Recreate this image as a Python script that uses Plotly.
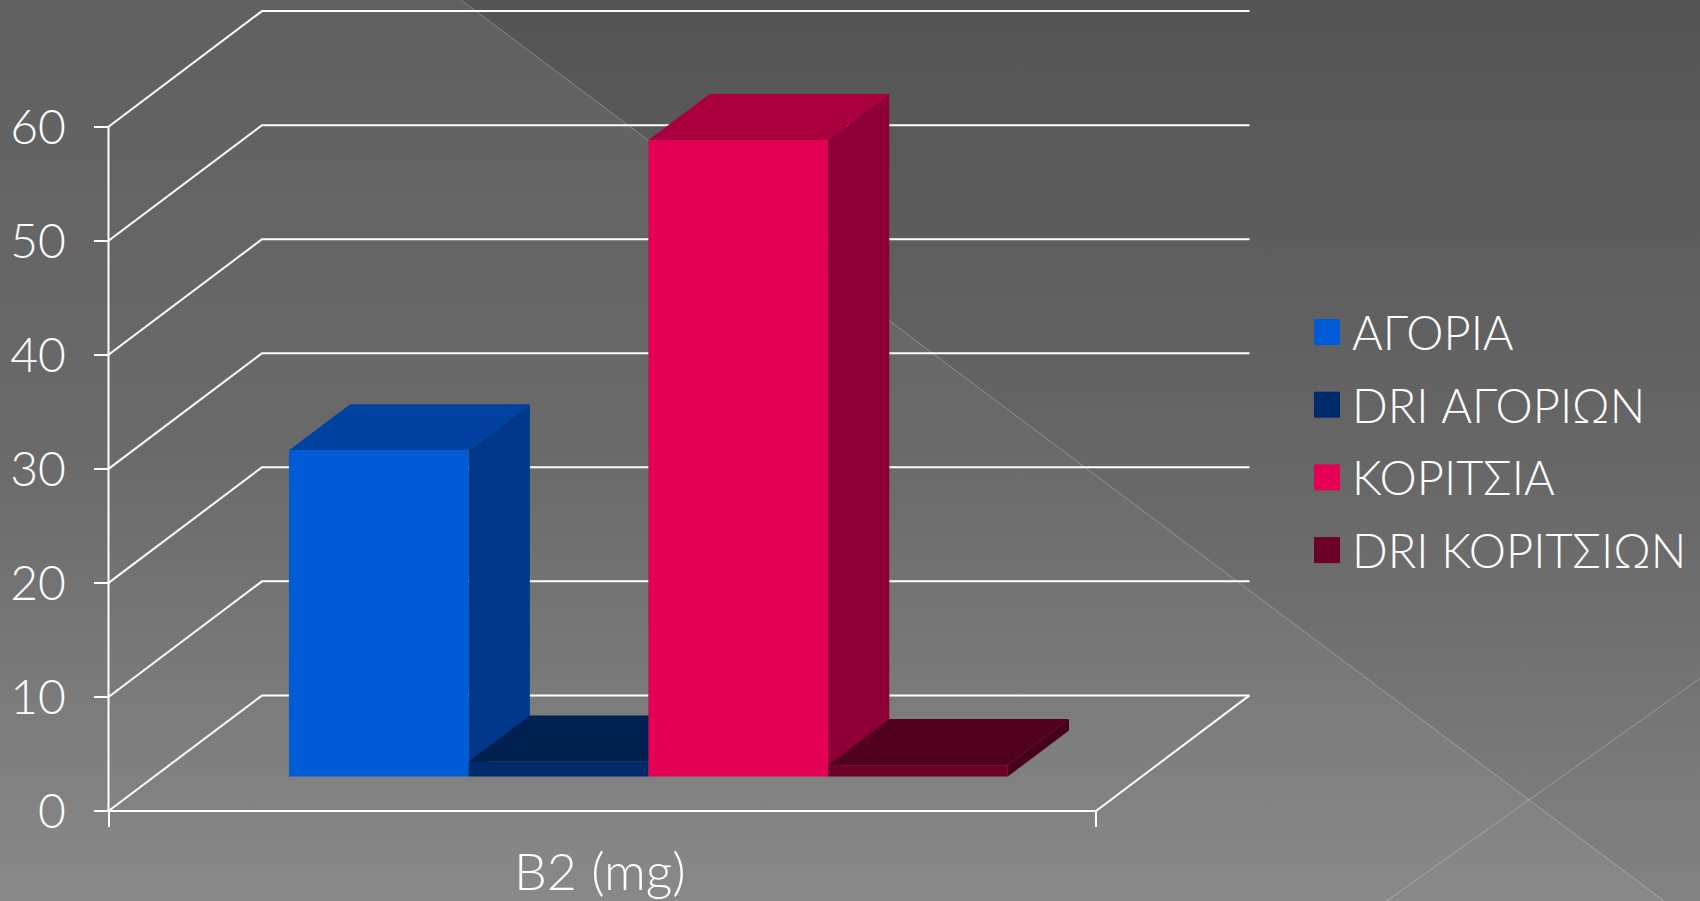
import plotly.graph_objects as go

# Riboflavin intake: one category, four series
CATEGORY = "B2 (mg)"
SERIES = ["ΑΓΟΡΙΑ", "DRI ΑΓΟΡΙΩΝ", "ΚΟΡΙΤΣΙΑ", "DRI ΚΟΡΙΤΣΙΩΝ"]
VALUES = [28.6, 1.3, 55.8, 1.0]
Y_TICKS = [0, 10, 20, 30, 40, 50, 60]

FRONT = ["#005BD6", "#002B6B", "#E30055", "#6B0029"]
TOP = ["#0042A1", "#002050", "#AA0040", "#52001F"]
SIDE = ["#00388A", "#001C46", "#900038", "#47001B"]

W, H = 1700, 901
FONT = "Lato"
TICK_SIZE = 48
LEGEND_SIZE = 47
CATEGORY_SIZE = 52

# Scales: pixels per unit on each axis
PX_PER_BAR = 179.7
PX_PER_VALUE = 11.405
ORIGIN_PX = (108.5, 811.0)

# Oblique projection of the chart box, in axis units
FLOOR_WIDTH = 987.5 / PX_PER_BAR
BOX_DX = 153.5 / PX_PER_BAR
BOX_DY = 115.6 / PX_PER_VALUE
BAR_NEAR = 0.298
BAR_DEPTH = 0.399
BAR_START = 0.7495


def project(x, value, depth=0.0):
    return x + depth * BOX_DX, value + depth * BOX_DY


def px(x_px, y_px):
    return (x_px - ORIGIN_PX[0]) / PX_PER_BAR, (ORIGIN_PX[1] - y_px) / PX_PER_VALUE


def polygon(points, color, zorder):
    xs, ys = zip(*points)
    return go.Scatter(x=list(xs) + [xs[0]], y=list(ys) + [ys[0]], mode="lines", fill="toself",
                      fillcolor=color, line=dict(width=0), hoverinfo="skip",
                      showlegend=False, zorder=zorder)


fig = go.Figure()

# Slide backdrop: vertical gradients, darker above the diagonal
x_left, y_bottom = px(0, H)
x_right, y_top = px(W, 0)
light_scale = [[0, "#606060"], [0.5, "#6a6a6a"], [0.667, "#747474"], [1, "#898989"]]
dark_scale = [[0, "#545454"], [0.22, "#5b5b5b"], [0.5, "#666666"], [0.667, "#6e6e6e"], [1, "#828282"]]


def backdrop(corners, scale, zorder):
    xs, ys = zip(*[px(*c) for c in corners])
    fig.add_trace(go.Scatter(
        x=list(xs) + [xs[0]], y=list(ys) + [ys[0]], mode="lines", line=dict(width=0),
        fill="toself", fillgradient=dict(type="vertical", colorscale=scale, start=y_top, stop=y_bottom),
        hoverinfo="skip", showlegend=False, zorder=zorder))


backdrop([(0, 0), (W, 0), (W, H), (0, H)], light_scale, -20)
backdrop([(461, 0), (W, 0), (W, H), (1664, H)], dark_scale, -19)

for a, b in [((461, 0), (1664, H)), ((W, 678.5), (1386.7, H))]:
    xa, ya = px(*a)
    xb, yb = px(*b)
    fig.add_trace(go.Scatter(x=[xa, xb], y=[ya, yb], mode="lines", hoverinfo="skip", showlegend=False,
                             line=dict(color="rgba(255,255,255,0.27)", width=1), zorder=-18))

# Gridlines run up the side wall and along the back wall
for tick in Y_TICKS:
    pts = [project(0, tick), project(0, tick, 1), project(FLOOR_WIDTH, tick, 1)]
    fig.add_trace(go.Scatter(x=[p[0] for p in pts], y=[p[1] for p in pts], mode="lines",
                             line=dict(color="white", width=2), hoverinfo="skip",
                             showlegend=False, zorder=-10))

# Value axis line and the two front floor edges
frame = [project(0, Y_TICKS[-1]), project(0, 0), project(FLOOR_WIDTH, 0), project(FLOOR_WIDTH, 0, 1)]
fig.add_trace(go.Scatter(x=[p[0] for p in frame], y=[p[1] for p in frame], mode="lines",
                         line=dict(color="white", width=2), hoverinfo="skip",
                         showlegend=False, zorder=-9))

# Boxes painted left to right: top and side faces, then the front bar
for i, (name, value) in enumerate(zip(SERIES, VALUES)):
    x0 = BAR_START + i
    x1 = x0 + 1
    d0, d1 = BAR_NEAR, BAR_NEAR + BAR_DEPTH
    base = project(x0, 0, d0)[1]
    top = [project(x0, value, d0), project(x0, value, d1), project(x1, value, d1), project(x1, value, d0)]
    side = [project(x1, 0, d0), project(x1, 0, d1), project(x1, value, d1), project(x1, value, d0)]
    fig.add_trace(polygon(top, TOP[i], 2 * i))
    fig.add_trace(polygon(side, SIDE[i], 2 * i))
    fig.add_trace(go.Bar(x=[project(x0 + 0.5, 0, d0)[0]], y=[value], base=[base], width=1, name=name,
                         marker=dict(color=FRONT[i], line=dict(width=0)), showlegend=False,
                         hovertemplate=name + ": %{y}<extra></extra>", zorder=2 * i + 1))

# Legend swatches and labels
shapes, annotations = [], []
for i, name in enumerate(SERIES):
    centre = 332.0 + i * 72.7
    shapes.append(dict(type="rect", xref="paper", yref="paper", layer="above", line=dict(width=0),
                       x0=1314 / W, x1=1340 / W, y0=1 - (centre - 13) / H, y1=1 - (centre + 13) / H,
                       fillcolor=FRONT[i]))
    annotations.append(dict(text=name, xref="paper", yref="paper", x=1349.5 / W, y=1 - centre / H,
                            xanchor="left", yanchor="middle", showarrow=False, align="left",
                            font=dict(family=FONT, size=LEGEND_SIZE, color="white", weight=300)))

cat_x, cat_y = px(600, 869.5)
annotations.append(dict(text=CATEGORY, x=cat_x, y=cat_y, xref="x", yref="y", showarrow=False,
                        xanchor="center", yanchor="middle",
                        font=dict(family=FONT, size=CATEGORY_SIZE, color="white", weight=300)))

fig.update_layout(
    width=W, height=H, margin=dict(l=0, r=0, t=0, b=0), autosize=False,
    paper_bgcolor="#666666", plot_bgcolor="rgba(0,0,0,0)", showlegend=False, barmode="overlay",
    shapes=shapes, annotations=annotations,
    font=dict(family=FONT, size=TICK_SIZE, color="white", weight=300),
    xaxis=dict(range=[x_left, x_right], domain=[0, 1], showgrid=False, zeroline=False, showline=False,
               anchor="free", position=(H - ORIGIN_PX[1]) / H,
               tickmode="array", tickvals=[0, FLOOR_WIDTH], ticktext=["", ""],
               ticks="outside", ticklen=15, tickwidth=2, tickcolor="white"),
    yaxis=dict(range=[y_bottom, y_top], domain=[0, 1], showgrid=False, zeroline=False, showline=False,
               anchor="free", position=ORIGIN_PX[0] / W,
               tickmode="array", tickvals=Y_TICKS,
               ticks="outside", ticklen=15, tickwidth=2, tickcolor="white",
               ticklabelstandoff=18, tickfont=dict(family=FONT, size=TICK_SIZE, color="white", weight=300)),
)

fig.write_html("out.html")
